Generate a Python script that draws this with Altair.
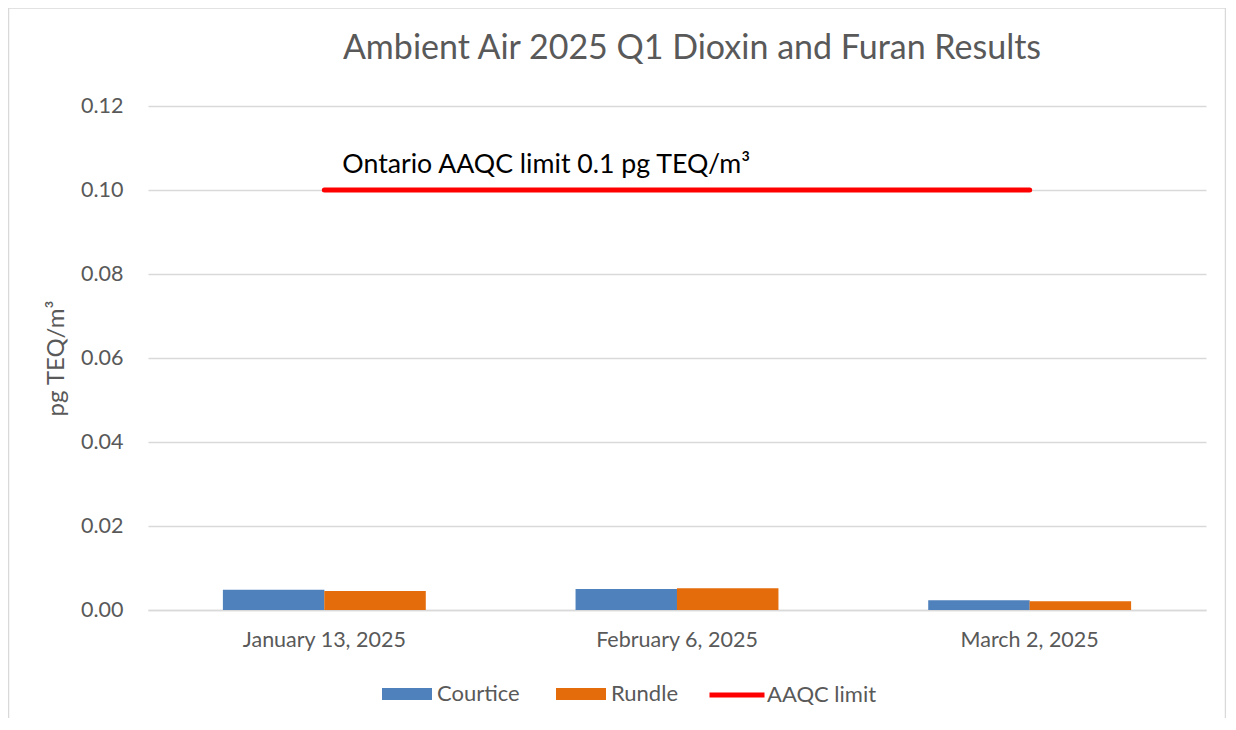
import altair as alt
import pandas as pd

dates = ["January 13, 2025", "February 6, 2025", "March 2, 2025"]
courtice = [0.0048, 0.0050, 0.0023]
rundle = [0.0045, 0.0052, 0.0021]
series = ["Courtice", "Rundle"]
limit_value = 0.1
limit_label = "AAQC limit"
annotation = "Ontario AAQC limit 0.1 pg TEQ/m³"
y_ticks = [0.0, 0.02, 0.04, 0.06, 0.08, 0.10, 0.12]

FONT = "Lato"
GRAY = "#595959"

rows = []
for d, c, r in zip(dates, courtice, rundle):
    rows.append({"date": d, "series": "Courtice", "value": c})
    rows.append({"date": d, "series": "Rundle", "value": r})
bars_df = pd.DataFrame(rows)

limit_df = pd.DataFrame({
    "date": [dates[0], dates[-1]],
    "value": [limit_value, limit_value],
    "name": [limit_label, limit_label],
})
ann_df = pd.DataFrame({"date": [dates[0]], "value": [limit_value], "text": [annotation]})
frame_df = pd.DataFrame({"k": [0]})

x_enc = alt.X(
    "date:N",
    sort=dates,
    title=None,
    scale=alt.Scale(paddingInner=0.425, paddingOuter=0.2125),
    axis=alt.Axis(
        labelAngle=0, labelFontSize=21.5, labelColor=GRAY, labelPadding=19,
        ticks=False, domainColor="#d9d9d9", domainWidth=1.5, labelFont=FONT,
    ),
)
y_enc = alt.Y(
    "value:Q",
    title="pg TEQ/m³",
    scale=alt.Scale(domain=[0, 0.12], nice=False),
    axis=alt.Axis(
        values=y_ticks, format=".2f", labelFontSize=21.5, labelColor=GRAY,
        labelPadding=25, ticks=False, domain=False, gridColor="#d9d9d9",
        gridWidth=1.3, titleFontSize=24, titleColor=GRAY, titleFontWeight="normal",
        titlePadding=12, labelFont=FONT, titleFont=FONT,
    ),
)

bars = alt.Chart(bars_df).mark_bar(size=101.5).encode(
    x=x_enc,
    y=y_enc,
    xOffset=alt.XOffset("series:N", sort=series, scale=alt.Scale(paddingInner=0, paddingOuter=0)),
    fill=alt.Fill(
        "series:N",
        sort=series,
        scale=alt.Scale(domain=series, range=["#4F81BD", "#E46C0A"]),
        legend=alt.Legend(
            title=None, orient="none", legendX=234, legendY=563, direction="horizontal",
            symbolType="M-1,-0.24H1V0.24H-1Z", symbolSize=2500, symbolStrokeWidth=0,
            labelFontSize=22, labelColor=GRAY, labelOffset=5, columnPadding=36,
            labelFont=FONT, padding=0,
        ),
    ),
)

line = alt.Chart(limit_df).mark_line(strokeWidth=5, strokeCap="round").encode(
    x=alt.X("date:N", sort=dates),
    y="value:Q",
    stroke=alt.Stroke(
        "name:N",
        scale=alt.Scale(domain=[limit_label], range=["#FF0000"]),
        legend=alt.Legend(
            title=None, orient="none", legendX=559, legendY=559, direction="horizontal",
            symbolType="stroke", symbolSize=3025, symbolStrokeWidth=5,
            labelFontSize=22, labelColor=GRAY, labelOffset=0, labelFont=FONT, padding=0,
        ),
    ),
)

text = alt.Chart(ann_df).mark_text(
    align="left", baseline="alphabetic", dx=18, dy=-17, fontSize=26.7, color="black", font=FONT,
).encode(x=alt.X("date:N", sort=dates), y="value:Q", text="text:N")

frame = alt.Chart(frame_df).mark_rect(
    fill=None, stroke="#d9d9d9", strokeWidth=1.5
).encode(
    x=alt.value(-139.5), x2=alt.value(1077.5), y=alt.value(-98), y2=alt.value(700)
)

chart = alt.layer(frame, bars, line, text).properties(
    width=1058,
    height=504,
    title=alt.Title(
        "Ambient Air 2025 Q1 Dioxin and Furan Results",
        fontSize=34, color=GRAY, font=FONT, fontWeight="normal",
        frame="group", anchor="middle", baseline="alphabetic", offset=-86, dx=15,
    ),
    autosize=alt.AutoSizeParams(type="none"),
    padding={"left": 140, "top": 98, "right": 20, "bottom": 108},
).configure_view(stroke=None)

chart.save("out.html", embed_options={"renderer": "svg", "actions": False})
